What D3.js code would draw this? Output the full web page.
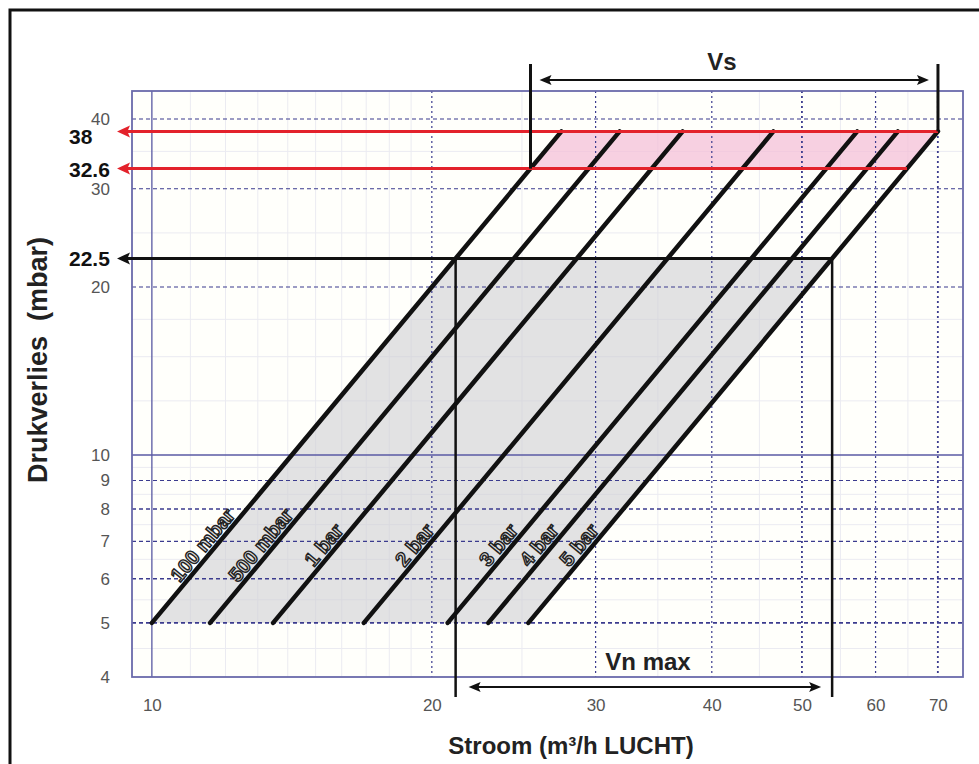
<!DOCTYPE html>
<html>
<head>
<meta charset="utf-8">
<script src="https://cdn.jsdelivr.net/npm/d3@7"></script>
<style>
  body { margin: 0; background: #fff; }
  svg { display: block; font-family: "Liberation Sans", Arial, sans-serif; }
</style>
</head>
<body>
<svg id="chart" width="979" height="764"></svg>
<script>
// ---- data ----
const lineNames = ["100 mbar", "500 mbar", "1 bar", "2 bar", "3 bar", "4 bar", "5 bar"]
const flowAt5mbar = [10, 11.55, 13.5, 16.9, 20.8, 23.0, 25.4]   // m3/h at 5 mbar
const pStart = 5
const pEnd = 38
const xTicks = [10, 20, 30, 40, 50, 60, 70]
const yTicks = [4, 5, 6, 7, 8, 9, 10, 20, 30, 40]
const xMinor = [11, 12, 13, 14, 15, 16, 17, 18, 19, 25, 35, 45, 55, 65]
const yMinor = [4.5, 5.5, 6.5, 7.5, 8.5, 9.5, 12.5, 15, 17.5, 25, 35]
const vsRange = [32.6, 38]      // mbar, pink band
const vnLevel = 22.5            // mbar, grey band top
const markedValues = [38, 32.6, 22.5]

// dP ~ Q^2 : flow for a line at a given pressure
const flowAt = (i, p) => flowAt5mbar[i] * Math.sqrt(p / pStart)
const first = 0, last = lineNames.length - 1

const svg = d3.select("#chart")

const x = d3.scaleLog().domain([9.52, 74.5]).range([132, 963])
const y = d3.scaleLog().domain([4, 44.9]).range([677, 91])

// outer frame (left + top only visible)
svg.append("path")
    .attr("d", "M10,764 L10,10 L979,10")
    .attr("fill", "none").attr("stroke", "#111").attr("stroke-width", 3)

const plot = svg.append("g")

plot.append("rect")
    .attr("x", x.range()[0]).attr("y", y.range()[1])
    .attr("width", x.range()[1] - x.range()[0])
    .attr("height", y.range()[0] - y.range()[1])
    .attr("fill", "#fffffb")

// minor faint grid
plot.append("g").selectAll("line").data(xMinor).join("line")
    .attr("x1", d => x(d)).attr("x2", d => x(d))
    .attr("y1", y.range()[1]).attr("y2", y.range()[0])
    .attr("stroke", "#ebebf1").attr("stroke-width", 1)
plot.append("g").selectAll("line").data(yMinor).join("line")
    .attr("y1", d => y(d)).attr("y2", d => y(d))
    .attr("x1", x.range()[0]).attr("x2", x.range()[1])
    .attr("stroke", "#ebebf1").attr("stroke-width", 1)

// grey band (5 .. 22.5 mbar) and pink band (32.6 .. 38 mbar)
const band = (p0, p1) => [
    [x(flowAt(first, p0)), y(p0)], [x(flowAt(first, p1)), y(p1)],
    [x(flowAt(last, p1)), y(p1)], [x(flowAt(last, p0)), y(p0)]
]
plot.append("polygon")
    .attr("points", band(pStart, vnLevel).join(" "))
    .attr("fill", "#cfcfd3").attr("fill-opacity", 0.6)
plot.append("polygon")
    .attr("points", band(vsRange[0], vsRange[1]).join(" "))
    .attr("fill", "#f4bcd5").attr("fill-opacity", 0.7)

// major grid
const gridColor = "#3b3b8e"
plot.append("g").selectAll("line").data(xTicks.filter(d => d !== 10)).join("line")
    .attr("x1", d => x(d)).attr("x2", d => x(d))
    .attr("y1", y.range()[1]).attr("y2", y.range()[0])
    .attr("stroke", gridColor)
    .attr("stroke-width", d => (d === 50 || d === 70) ? 1.8 : 1.2)
    .attr("stroke-dasharray", "2,3")
plot.append("g").selectAll("line").data(yTicks.filter(d => d !== 10 && d !== 4)).join("line")
    .attr("y1", d => y(d)).attr("y2", d => y(d))
    .attr("x1", x.range()[0]).attr("x2", x.range()[1])
    .attr("stroke", gridColor)
    .attr("stroke-width", d => (d === 5 || d === 6 || d === 8) ? 1.6 : 1.1)
    .attr("stroke-dasharray", "4,3")

// solid lines at 10 and plot frame
plot.append("line")
    .attr("x1", x(10)).attr("x2", x(10))
    .attr("y1", y.range()[1]).attr("y2", y.range()[0])
    .attr("stroke", "#6464a8").attr("stroke-width", 1.4)
plot.append("line")
    .attr("y1", y(10)).attr("y2", y(10))
    .attr("x1", x.range()[0]).attr("x2", x.range()[1])
    .attr("stroke", "#5a5aa4").attr("stroke-width", 1.6)
plot.append("rect")
    .attr("x", x.range()[0]).attr("y", y.range()[1])
    .attr("width", x.range()[1] - x.range()[0])
    .attr("height", y.range()[0] - y.range()[1])
    .attr("fill", "none").attr("stroke", "#6a6aaa").attr("stroke-width", 1.8)

// axes (labels only)
svg.append("g")
    .attr("transform", `translate(${x.range()[0]},0)`)
    .call(d3.axisLeft(y).tickValues(yTicks).tickFormat(d3.format("d")).tickSize(0).tickPadding(22))
svg.append("g")
    .attr("transform", `translate(0,${y.range()[0]})`)
    .call(d3.axisBottom(x).tickValues(xTicks).tickFormat(d3.format("d")).tickSize(0).tickPadding(22))
svg.selectAll(".domain").remove()
svg.selectAll(".tick text")
    .attr("font-size", 17).attr("fill", "#555")
    .attr("font-family", "'Liberation Sans', Arial, sans-serif")

// helper: filled arrow head, tip at (tx,ty), pointing in direction dir ('left'|'right')
function arrowHead(g, tx, ty, dir, color, len, half) {
    const s = dir === "left" ? 1 : -1
    g.append("path")
        .attr("d", `M${tx},${ty} L${tx + s * len},${ty - half} L${tx + s * len * 0.8},${ty} L${tx + s * len},${ty + half} Z`)
        .attr("fill", color)
}

const ann = svg.append("g")

// horizontal reading lines to the y axis
const tipX = 117
const readLines = [
    { p: 38, to: flowAt(last, 38), color: "#e3222b" },
    { p: 32.6, to: flowAt(last, 32.6), color: "#e3222b" },
    { p: 22.5, to: flowAt(last, 22.5), color: "#111" }
]
readLines.forEach(r => {
    ann.append("line")
        .attr("x1", tipX + 8).attr("x2", x(r.to))
        .attr("y1", y(r.p)).attr("y2", y(r.p))
        .attr("stroke", r.color).attr("stroke-width", 3)
    arrowHead(ann, tipX, y(r.p), "left", r.color, 13, 6)
})

// marked values next to the axis
ann.selectAll("text.mark").data(markedValues).join("text")
    .attr("class", "mark")
    .attr("x", 69)
    .attr("y", d => y(d) + (d === 38 ? 13 : 8))
    .attr("font-size", 21).attr("font-weight", "bold").attr("fill", "#111")
    .text(d => d)

// pressure-loss lines
const lines = plot.append("g")
lines.selectAll("line").data(flowAt5mbar).join("line")
    .attr("x1", d => x(d)).attr("y1", y(pStart))
    .attr("x2", (d, i) => x(flowAt(i, pEnd))).attr("y2", y(pEnd))
    .attr("stroke", "#111").attr("stroke-width", 4.5).attr("stroke-linecap", "round")

// rotated outlined labels along each line
const labelP = 6.7
const labelOffset = 11
lineNames.forEach((name, i) => {
    const x0 = x(flowAt(i, pStart)), y0 = y(pStart)
    const x1 = x(flowAt(i, pEnd)), y1 = y(pEnd)
    const len = Math.hypot(x1 - x0, y1 - y0)
    const ux = (x1 - x0) / len, uy = (y1 - y0) / len
    const px = x(flowAt(i, labelP)) + uy * labelOffset
    const py = y(labelP) - ux * labelOffset
    const ang = Math.atan2(uy, ux) * 180 / Math.PI
    lines.append("text")
        .attr("transform", `translate(${px},${py}) rotate(${ang})`)
        .attr("text-anchor", "middle").attr("dominant-baseline", "central")
        .attr("font-family", "'Liberation Sans Narrow', 'Arial Narrow', sans-serif")
        .attr("font-size", 20).attr("font-weight", "bold")
        .attr("fill", "#dcdcdc").attr("stroke", "#222").attr("stroke-width", 1.4)
        .text(name)
})

// Vs bracket
const vsLeft = flowAt(first, vsRange[0]), vsRight = flowAt(last, vsRange[1])
ann.append("line")
    .attr("x1", x(vsLeft)).attr("x2", x(vsLeft)).attr("y1", 64).attr("y2", y(vsRange[0]))
    .attr("stroke", "#111").attr("stroke-width", 3)
ann.append("line")
    .attr("x1", x(vsRight)).attr("x2", x(vsRight)).attr("y1", 64).attr("y2", y(vsRange[1]))
    .attr("stroke", "#111").attr("stroke-width", 3)
ann.append("line")
    .attr("x1", x(vsLeft) + 16).attr("x2", x(vsRight) - 16).attr("y1", 80).attr("y2", 80)
    .attr("stroke", "#111").attr("stroke-width", 2)
arrowHead(ann, x(vsLeft) + 9, 80, "left", "#111", 12, 5)
arrowHead(ann, x(vsRight) - 9, 80, "right", "#111", 12, 5)
ann.append("text")
    .attr("x", 722).attr("y", 70).attr("text-anchor", "middle")
    .attr("font-size", 24).attr("font-weight", "bold").attr("fill", "#222")
    .text("Vs")

// Vn max bracket
const vnLeft = flowAt(first, vnLevel), vnRight = flowAt(last, vnLevel)
ann.append("line")
    .attr("x1", x(vnLeft)).attr("x2", x(vnLeft)).attr("y1", y(vnLevel)).attr("y2", 697)
    .attr("stroke", "#111").attr("stroke-width", 2.5)
ann.append("line")
    .attr("x1", x(vnRight)).attr("x2", x(vnRight)).attr("y1", y(vnLevel)).attr("y2", 697)
    .attr("stroke", "#111").attr("stroke-width", 2.5)
ann.append("line")
    .attr("x1", x(vnLeft) + 20).attr("x2", x(vnRight) - 18).attr("y1", 687).attr("y2", 687)
    .attr("stroke", "#111").attr("stroke-width", 2)
arrowHead(ann, x(vnLeft) + 13, 687, "left", "#111", 12, 5)
arrowHead(ann, x(vnRight) - 11, 687, "right", "#111", 12, 5)
ann.append("text")
    .attr("x", 648).attr("y", 670).attr("text-anchor", "middle")
    .attr("font-size", 24).attr("font-weight", "bold").attr("fill", "#222")
    .text("Vn max")

// axis titles
svg.append("text")
    .attr("x", 571).attr("y", 754).attr("text-anchor", "middle")
    .attr("font-size", 24).attr("font-weight", "bold").attr("fill", "#222")
    .text("Stroom (m³/h LUCHT)")
svg.append("text")
    .attr("transform", "translate(47,360) rotate(-90)")
    .attr("text-anchor", "middle")
    .attr("font-size", 27).attr("font-weight", "bold").attr("fill", "#222")
    .style("white-space", "pre")
    .text("Drukverlies  (mbar)")
</script>
</body>
</html>
